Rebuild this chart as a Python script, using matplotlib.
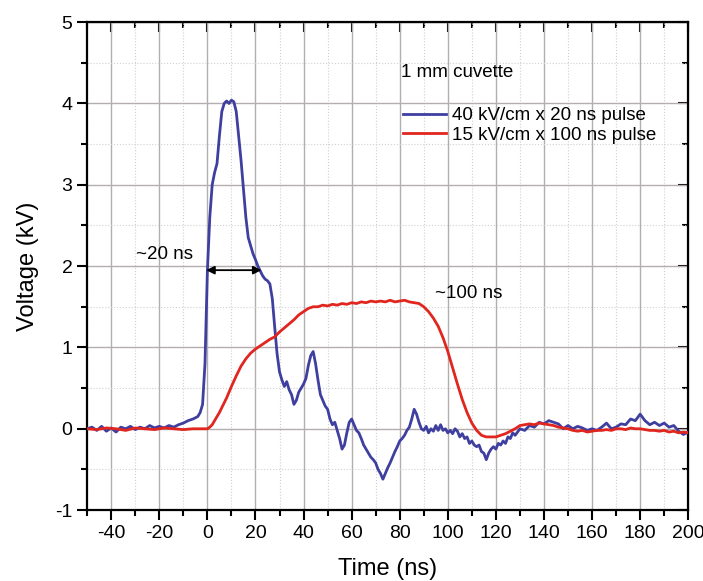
import matplotlib
matplotlib.use("Agg")
import matplotlib.pyplot as plt
from matplotlib.ticker import MultipleLocator

plt.rcParams['font.family'] = ['Liberation Sans', 'DejaVu Sans']
plt.rcParams['axes.unicode_minus'] = False

# 40 kV/cm x 20 ns pulse (blue)
t_short = [-50, -48, -46, -44, -42, -40, -38, -36, -34, -32, -30, -28, -26, -24, -22,
           -20, -18, -16, -14, -12, -10, -8, -6, -4, -3, -2, -1, 0, 1, 2, 3, 4, 5, 6,
           7, 8, 9, 10, 11, 12, 13, 14, 15, 16, 17, 18, 19, 20, 21, 22, 23, 24, 25, 26,
           27, 28, 29, 30, 31, 32, 33, 34, 35, 36, 37, 38, 39, 40, 41, 42, 43, 44, 45,
           46, 47, 48, 49, 50, 51, 52, 53, 54, 55, 56, 57, 58, 59, 60, 61, 62, 63, 64,
           65, 66, 67, 68, 69, 70, 71, 72, 73, 74, 75, 76, 77, 78, 79, 80, 81, 82, 83,
           84, 85, 86, 87, 88, 89, 90, 91, 92, 93, 94, 95, 96, 97, 98, 99, 100, 101,
           102, 103, 104, 105, 106, 107, 108, 109, 110, 111, 112, 113, 114, 115, 116,
           117, 118, 119, 120, 121, 122, 123, 124, 125, 126, 127, 128, 130, 132, 134,
           136, 138, 140, 142, 144, 146, 148, 150, 152, 154, 156, 158, 160, 162, 164,
           166, 168, 170, 172, 174, 176, 178, 180, 182, 184, 186, 188, 190, 192, 194,
           196, 198, 200]
v_short = [0.00, 0.02, -0.02, 0.03, -0.03, 0.01, -0.04, 0.02, 0.00, 0.03, -0.01, 0.02,
           0.00, 0.04, 0.01, 0.03, 0.01, 0.04, 0.02, 0.05, 0.07, 0.10, 0.12, 0.15, 0.20,
           0.30, 0.80, 1.94, 2.60, 3.00, 3.15, 3.26, 3.60, 3.90, 4.00, 4.03, 4.00, 4.04,
           4.02, 3.90, 3.60, 3.30, 2.95, 2.60, 2.35, 2.25, 2.15, 2.08, 2.00, 1.94, 1.88,
           1.84, 1.82, 1.78, 1.60, 1.25, 0.92, 0.70, 0.60, 0.52, 0.58, 0.48, 0.42, 0.30,
           0.35, 0.45, 0.50, 0.55, 0.62, 0.78, 0.90, 0.95, 0.80, 0.60, 0.42, 0.35, 0.28,
           0.24, 0.12, 0.05, 0.08, -0.02, -0.12, -0.25, -0.20, -0.05, 0.08, 0.12, 0.05,
           -0.02, -0.05, -0.12, -0.20, -0.25, -0.30, -0.35, -0.38, -0.42, -0.50, -0.55,
           -0.62, -0.55, -0.48, -0.42, -0.35, -0.28, -0.22, -0.15, -0.12, -0.08, -0.02,
           0.02, 0.12, 0.24, 0.18, 0.08, 0.00, -0.02, 0.03, -0.05, 0.00, -0.03, 0.04,
           -0.02, 0.05, -0.02, 0.00, -0.05, -0.02, -0.06, 0.00, -0.03, -0.10, -0.06,
           -0.12, -0.10, -0.18, -0.15, -0.20, -0.22, -0.20, -0.28, -0.30, -0.38, -0.30,
           -0.25, -0.22, -0.25, -0.18, -0.20, -0.15, -0.18, -0.10, -0.12, -0.05, -0.08,
           0.00, -0.02, 0.04, 0.02, 0.08, 0.06, 0.10, 0.08, 0.06, 0.00, 0.04, 0.00, 0.03,
           0.01, -0.02, 0.00, -0.02, 0.02, 0.07, 0.00, 0.02, 0.06, 0.05, 0.12, 0.10,
           0.18, 0.10, 0.05, 0.08, 0.04, 0.07, 0.02, 0.04, -0.03, -0.07, -0.04]

# 15 kV/cm x 100 ns pulse (red)
t_long = [-50, -46, -42, -38, -34, -30, -26, -22, -18, -14, -10, -6, -2, 0, 1, 2, 3,
          4, 5, 6, 7, 8, 10, 12, 14, 16, 18, 20, 22, 24, 26, 28, 30, 32, 34, 36, 38,
          40, 42, 44, 46, 48, 50, 52, 54, 56, 58, 60, 62, 64, 66, 68, 70, 72, 74, 76,
          78, 80, 82, 84, 86, 88, 90, 92, 94, 96, 98, 100, 102, 104, 106, 108, 110,
          112, 114, 116, 118, 120, 122, 124, 126, 128, 130, 132, 134, 136, 138, 140,
          142, 144, 146, 148, 150, 152, 154, 156, 158, 160, 162, 164, 166, 168, 170,
          172, 174, 176, 178, 180, 182, 184, 186, 188, 190, 192, 194, 196, 198, 200]
v_long = [0.00, -0.01, 0.01, 0.00, -0.02, 0.01, 0.00, -0.01, 0.01, 0.00, -0.01, 0.00,
          0.00, 0.00, 0.02, 0.05, 0.10, 0.15, 0.20, 0.26, 0.32, 0.38, 0.52, 0.65,
          0.77, 0.86, 0.93, 0.98, 1.02, 1.06, 1.10, 1.13, 1.19, 1.24, 1.29, 1.34,
          1.40, 1.44, 1.48, 1.50, 1.50, 1.52, 1.51, 1.53, 1.52, 1.54, 1.53, 1.55,
          1.54, 1.56, 1.55, 1.57, 1.56, 1.57, 1.56, 1.58, 1.56, 1.57, 1.58, 1.56,
          1.55, 1.54, 1.50, 1.44, 1.36, 1.26, 1.12, 0.95, 0.75, 0.55, 0.36, 0.20,
          0.07, -0.02, -0.08, -0.10, -0.10, -0.10, -0.08, -0.06, -0.03, 0.00, 0.04,
          0.05, 0.06, 0.05, 0.07, 0.06, 0.05, 0.04, 0.02, 0.01, 0.00, -0.02, -0.03,
          -0.02, -0.04, -0.03, -0.02, -0.02, -0.01, -0.02, 0.00, 0.00, -0.01, 0.01,
          0.00, 0.00, -0.01, -0.02, -0.02, -0.03, -0.02, -0.04, -0.03, -0.05, -0.04,
          -0.05]

fig = plt.figure(figsize=(7.03, 5.81), dpi=100)
ax = fig.add_axes([0.124, 0.122, 0.855, 0.840])

ax.plot(t_short, v_short, color='#3f3fa0', lw=2.0, label='40 kV/cm x 20 ns pulse', zorder=3)
ax.plot(t_long, v_long, color='#e0261e', lw=2.0, label='15 kV/cm x 100 ns pulse', zorder=3)

ax.set_xlim(-50, 200)
ax.set_ylim(-1, 5)
ax.xaxis.set_major_locator(MultipleLocator(20))
ax.xaxis.set_minor_locator(MultipleLocator(10))
ax.yaxis.set_major_locator(MultipleLocator(1))
ax.yaxis.set_minor_locator(MultipleLocator(0.5))

ax.grid(True, which='major', color='#b3adad', lw=1.0, zorder=0)
ax.grid(True, which='minor', color='#d0d0d0', lw=0.8, ls=':', zorder=0)

ax.tick_params(which='both', direction='out', width=1.5, labelsize=14)
ax.tick_params(which='major', length=7)
ax.tick_params(which='minor', length=4)
for s in ax.spines.values():
    s.set_linewidth(1.6)

# mirrored ticks on top and right, pointing inward
axt = ax.secondary_xaxis('top')
axt.xaxis.set_major_locator(MultipleLocator(20))
axt.xaxis.set_minor_locator(MultipleLocator(10))
axt.tick_params(which='both', direction='in', width=1.5, labeltop=False)
axt.tick_params(which='major', length=7)
axt.tick_params(which='minor', length=4)
axr = ax.secondary_yaxis('right')
axr.yaxis.set_major_locator(MultipleLocator(1))
axr.yaxis.set_minor_locator(MultipleLocator(0.5))
axr.tick_params(which='both', direction='in', width=1.5, labelright=False)
axr.tick_params(which='major', length=7)
axr.tick_params(which='minor', length=4)

ax.set_xlabel('Time (ns)', fontsize=17, labelpad=12)
ax.set_ylabel('Voltage (kV)', fontsize=17, labelpad=12)

ax.annotate('', xy=(-0.5, 1.95), xytext=(22.5, 1.95),
            arrowprops=dict(arrowstyle='<|-|>', color='black', lw=1.3,
                            mutation_scale=12, shrinkA=0, shrinkB=0), zorder=4)
ax.text(-29.5, 2.14, '~20 ns', fontsize=13.5, va='center', ha='left')
ax.text(94.5, 1.66, '~100 ns', fontsize=13.5, va='center', ha='left')
ax.text(80.5, 4.38, '1 mm cuvette', fontsize=13.5, va='center', ha='left')

ax.legend(loc='upper left', bbox_to_anchor=(0.526, 0.826), frameon=False,
          fontsize=13.5, handlelength=2.3, handletextpad=0.3, labelspacing=0.15,
          borderaxespad=0, borderpad=0)

fig.savefig('out.png', dpi=100)
